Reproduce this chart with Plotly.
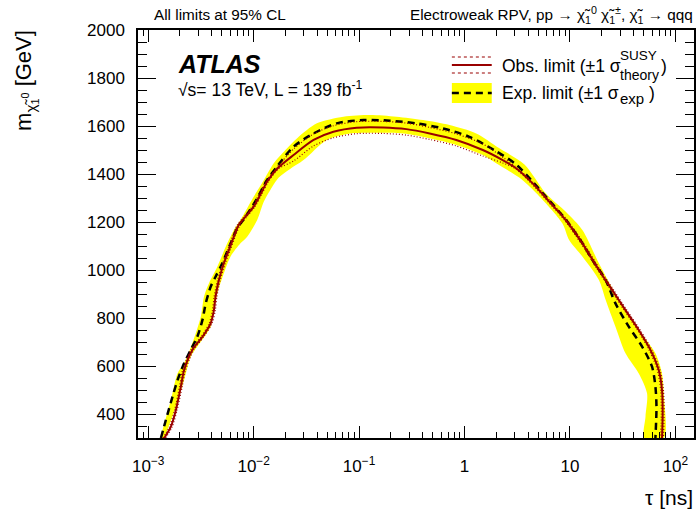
import math
import plotly.graph_objects as go

# ---------------- data ----------------
obs_tau = [1.42e-3, 1.64e-3, 1.83e-3, 2.04e-3, 2.19e-3, 2.62e-3, 3.27e-3, 3.91e-3, 4.20e-3, 4.35e-3,
           4.68e-3, 5.22e-3, 5.82e-3, 6.49e-3, 7.23e-3, 8.37e-3, 1.00e-2, 1.16e-2, 1.34e-2, 1.67e-2,
           2.39e-2, 3.70e-2, 5.71e-2, 9.48e-2, 0.169, 0.281, 0.467, 0.835, 1.49, 2.30,
           3.08, 4.42, 6.35, 9.12, 13.1, 18.8, 25.1, 33.6, 44.9, 57.9, 69.4, 74.6, 75.7, 74.6]
obs_m = [300, 347, 417, 514, 583, 667, 722, 778, 833, 889,
         958, 1028, 1083, 1139, 1188, 1222, 1264, 1315, 1368, 1422,
         1479, 1542, 1576, 1593, 1594, 1587, 1569, 1542, 1500, 1458,
         1424, 1361, 1285, 1208, 1111, 1000, 917, 833, 750, 667, 583, 500, 403, 300]

obs_up_tau = [1.38e-3, 1.59e-3, 1.78e-3, 1.98e-3, 2.12e-3, 2.54e-3, 3.17e-3, 3.79e-3, 4.07e-3, 4.22e-3,
              4.54e-3, 5.06e-3, 5.64e-3, 6.29e-3, 7.00e-3, 8.10e-3, 9.70e-3, 1.12e-2, 1.30e-2, 1.62e-2,
              2.39e-2, 3.70e-2, 5.71e-2, 9.48e-2, 0.169, 0.281, 0.467, 0.835, 1.49, 2.30,
              3.17, 4.55, 6.55, 9.40, 13.5, 19.4, 25.9, 34.6, 46.3, 59.7, 71.5, 76.9, 78.0, 76.9]
obs_up_m = [300, 347, 417, 514, 583, 667, 722, 778, 833, 889,
            958, 1028, 1083, 1139, 1188, 1222, 1264, 1315, 1368, 1422,
            1504, 1567, 1601, 1618, 1619, 1612, 1594, 1567, 1525, 1470,
            1424, 1361, 1285, 1208, 1111, 1000, 917, 833, 750, 667, 583, 500, 403, 300]

obs_dn_tau = [1.46e-3, 1.69e-3, 1.88e-3, 2.10e-3, 2.26e-3, 2.70e-3, 3.37e-3, 4.03e-3, 4.33e-3, 4.48e-3,
              4.82e-3, 5.38e-3, 6.00e-3, 6.68e-3, 7.45e-3, 8.62e-3, 1.03e-2, 1.19e-2, 1.38e-2, 1.72e-2,
              2.39e-2, 3.70e-2, 5.71e-2, 9.48e-2, 0.169, 0.281, 0.467, 0.835, 1.49, 2.30,
              2.99, 4.29, 6.17, 8.85, 12.7, 18.3, 24.4, 32.6, 43.6, 56.2, 67.4, 72.4, 73.5, 72.4]
obs_dn_m = [300, 347, 417, 514, 583, 667, 722, 778, 833, 889,
            958, 1028, 1083, 1139, 1188, 1222, 1264, 1315, 1368, 1422,
            1454, 1517, 1551, 1568, 1569, 1562, 1544, 1517, 1475, 1446,
            1424, 1361, 1285, 1208, 1111, 1000, 917, 833, 750, 667, 583, 500, 403, 300]

exp_tau = [1.32e-3, 1.47e-3, 1.70e-3, 1.90e-3, 2.19e-3, 2.53e-3, 2.92e-3, 3.27e-3, 3.51e-3, 3.91e-3,
           4.35e-3, 5.04e-3, 6.04e-3, 6.98e-3, 8.37e-3, 1.08e-2, 1.34e-2, 1.67e-2, 2.39e-2, 3.70e-2,
           6.14e-2, 0.110, 0.196, 0.350, 0.624, 1.11, 1.99, 3.08, 4.42, 6.35,
           9.12, 13.1, 16.3, 21.8, 27.0, 36.1, 48.3, 60.0, 64.6, 66.1, 64.6]
exp_m = [300, 375, 472, 542, 611, 667, 722, 792, 861, 930,
         972, 1028, 1111, 1174, 1222, 1299, 1375, 1432, 1514, 1569,
         1611, 1625, 1622, 1611, 1590, 1555, 1495, 1440, 1368, 1290,
         1210, 1112, 1042, 958, 861, 764, 681, 597, 514, 430, 300]

band_outer_tau = [1.30e-3, 1.64e-3, 1.90e-3, 2.19e-3, 2.62e-3, 3.15e-3, 3.38e-3, 3.77e-3, 4.52e-3, 5.62e-3,
                  6.49e-3, 7.50e-3, 1.00e-2, 1.25e-2, 1.55e-2, 2.00e-2, 2.60e-2, 3.98e-2, 7.09e-2, 0.127,
                  0.226, 0.404, 0.722, 1.29, 2.14, 3.70, 5.91, 9.12, 13.1, 18.8,
                  29.1, 44.9, 64.6, 74.6, 77.4, 77.4]
band_outer_m = [300, 458, 570, 611, 695, 805, 889, 945, 1014, 1111,
                1167, 1208, 1305, 1375, 1445, 1500, 1550, 1611, 1639, 1646,
                1639, 1625, 1604, 1569, 1507, 1440, 1319, 1243, 1167, 1028,
                875, 750, 653, 569, 486, 300]
band_inner_tau = [50.8, 52.0, 53.8, 44.9, 33.6, 27.0, 21.8, 18.8, 13.1, 9.81,
                  8.48, 4.80, 3.30, 2.20, 1.49, 0.835, 0.467, 0.262, 0.147, 8.20e-2,
                  4.94e-2, 2.97e-2, 2.20e-2, 1.73e-2, 1.44e-2, 1.25e-2, 1.08e-2, 8.68e-3, 7.50e-3, 6.04e-3,
                  5.22e-3, 4.52e-3, 4.20e-3, 3.91e-3, 3.15e-3, 2.53e-3, 2.19e-3, 1.83e-3, 1.42e-3]
band_inner_m = [300, 389, 486, 569, 653, 764, 875, 958, 1056, 1125,
                1194, 1320, 1385, 1433, 1479, 1521, 1549, 1569, 1572, 1569,
                1542, 1458, 1420, 1385, 1333, 1285, 1208, 1139, 1111, 1056,
                986, 903, 833, 764, 701, 639, 542, 430, 300]

x_tickvals = [1e-3, 1e-2, 1e-1, 1, 10, 100]
x_ticktext = ["10<sup>\u22123</sup>", "10<sup>\u22122</sup>", "10<sup>\u22121</sup>", "1", "10", "10<sup>2</sup>"]
x_range = [8e-4, 150]
y_range = [300, 2000]

# ---------------- layout helpers ----------------
W, H = 699, 519
L, R, T, B = 138, 3, 30, 81
PW, PH = W - L - R, H - T - B  # 558 x 408
FONT = "Liberation Sans, Arial, Helvetica, sans-serif"
RED = "#990000"


def px(x):
    return (x - L) / PW


def py(y):
    return (H - B - y) / PH


fig = go.Figure()
fig.add_trace(go.Scatter(x=band_outer_tau + band_inner_tau, y=band_outer_m + band_inner_m,
                         mode="lines", fill="toself", fillcolor="#ffff00",
                         line=dict(width=0, shape="spline", smoothing=0.8, color="#ffff00"),
                         hoverinfo="skip", showlegend=False))
fig.add_trace(go.Scatter(x=exp_tau, y=exp_m, mode="lines",
                         line=dict(color="black", width=2.5, dash="7px,5px", shape="spline", smoothing=0.8),
                         hoverinfo="skip", showlegend=False))
for tx, ty in ((obs_up_tau, obs_up_m), (obs_dn_tau, obs_dn_m)):
    fig.add_trace(go.Scatter(x=tx, y=ty, mode="lines",
                             line=dict(color=RED, width=1.2, dash="1px,2px", shape="spline", smoothing=0.8),
                             hoverinfo="skip", showlegend=False))
fig.add_trace(go.Scatter(x=obs_tau, y=obs_m, mode="lines",
                         line=dict(color=RED, width=2, shape="spline", smoothing=0.8),
                         hoverinfo="skip", showlegend=False))

fig.update_layout(
    width=W, height=H, margin=dict(l=L, r=R, t=T, b=B, pad=0),
    paper_bgcolor="white", plot_bgcolor="white",
    font=dict(family=FONT, color="black", size=17),
    showlegend=False,
    xaxis=dict(type="log", range=[math.log10(x_range[0]), math.log10(x_range[1])],
               showgrid=False, zeroline=False, showline=True, linecolor="black", linewidth=1.5,
               mirror="ticks", ticks="inside", ticklen=12, tickwidth=1, tickcolor="black",
               tickvals=x_tickvals, ticktext=x_ticktext, tickfont=dict(size=17),
               ticklabelstandoff=12,
               minor=dict(ticks="inside", ticklen=6, dtick="D1", tickcolor="black", showgrid=False)),
    yaxis=dict(range=y_range, showgrid=False, zeroline=False, showline=True, linecolor="black",
               linewidth=1.5, mirror="ticks", ticks="inside", ticklen=18, tickwidth=1, tickcolor="black",
               tick0=0, dtick=200, tickfont=dict(size=17), ticklabelstandoff=8,
               minor=dict(ticks="inside", ticklen=9, dtick=50, tickcolor="black", showgrid=False)),
)

ann = []


def text(x, y, s, size, xanchor="left", yanchor="middle", angle=0):
    ann.append(dict(x=px(x), y=py(y), xref="paper", yref="paper", text=s, showarrow=False,
                    xanchor=xanchor, yanchor=yanchor, textangle=angle,
                    font=dict(size=size, family=FONT, color="black")))


text(152, 15, "All limits at 95% CL", 15.3)
text(697, 15, "Electroweak RPV, pp \u2192 \u03c7\u0303<sub>1</sub><sup>0</sup> \u03c7\u0303<sub>1</sub><sup>\u00b1</sup>, "
     "\u03c7\u0303<sub>1</sub> \u2192 qqq", 15.3, xanchor="right")
text(176, 64, "<b><i>ATLAS</i></b>", 25)
text(176, 89, "\u221as= 13 TeV, L = 139 fb<sup>-1</sup>", 17.5)
# legend
text(501, 66, "Obs. limit (\u00b11 \u03c3", 17.5)
text(620, 55, "SUSY", 13.5)
text(620, 75, "theory", 14)
text(661, 66, ")", 17.5)
text(501, 93, "Exp. limit (\u00b11 \u03c3", 17.5)
text(620, 99, "exp", 15)
text(649, 93, ")", 17.5)
# axis titles
text(25, 28, "m<sub>\u03c7\u0303<sub>1</sub><sup>0</sup></sub> [GeV]", 22, xanchor="center", yanchor="top", angle=-90)
text(697, 497, "\u03c4 [ns]", 21, xanchor="right")
fig.update_layout(annotations=ann)

shapes = []
for yy, dash, w in ((57, "dot", 1.2), (65, "solid", 2), (73, "dot", 1.2)):
    shapes.append(dict(type="line", xref="paper", yref="paper", x0=px(453), x1=px(493), y0=py(yy), y1=py(yy),
                       line=dict(color=RED, width=w, dash=dash)))
shapes.append(dict(type="rect", xref="paper", yref="paper", x0=px(453), x1=px(493), y0=py(103), y1=py(83),
                   fillcolor="#ffff00", line=dict(width=0)))
shapes.append(dict(type="line", xref="paper", yref="paper", x0=px(453), x1=px(493), y0=py(93), y1=py(93),
                   line=dict(color="black", width=2.5, dash="7px,5px")))
fig.update_layout(shapes=shapes)

fig.write_html("out.html", config={"displayModeBar": False},
               post_script="document.body.style.margin='0px';")
